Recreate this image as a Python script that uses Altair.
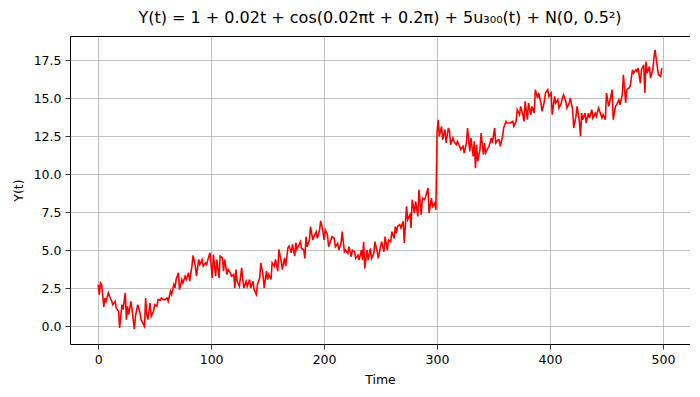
import altair as alt
import pandas as pd

# Values, segment by segment (time, Y(t))
t_a = [0, 1, 2, 3, 5, 6, 7, 9, 10, 12, 13, 15, 16, 18, 19, 21, 22, 24, 25, 26, 27, 29, 30, 32, 33, 35, 37, 38, 41, 42, 43, 44, 46, 47, 49, 50, 52, 53, 55, 56, 58, 59, 61, 62, 64, 65, 67, 68, 69, 71, 72, 74, 75, 77, 78, 80, 81, 83, 84, 86, 87]
y_a = [2.73, 2.07, 2.84, 2.73, 1.26, 1.85, 1.63, 2.18, 1.96, 1.63, 1.41, 1.63, 1.19, 0.97, -0.13, 1.41, 1.08, 2.18, 0.42, 1.30, 0.75, 1.63, 1.08, -0.20, 0.64, 1.41, 0.86, 0.42, -0.02, 1.85, 0.75, 0.42, 1.52, 0.64, 0.97, 1.41, 1.30, 1.74, 1.70, 1.85, 1.74, 1.74, 1.85, 1.63, 2.29, 2.07, 2.73, 2.51, 3.06, 3.50, 2.40, 3.06, 2.84, 3.28, 3.06, 3.50, 2.95, 3.94, 4.65, 3.94, 3.28]

t_b = [89, 90, 92, 93, 95, 96, 98, 99, 101, 102, 104, 105, 107, 108, 110, 111, 112, 114, 115, 117, 118, 120, 121, 122, 123, 125, 127, 128, 129, 131, 132, 134, 135, 137, 138, 140, 141, 143, 144, 146, 147, 149, 150, 151, 153, 154, 156, 157, 159, 160, 162, 163, 165, 166, 168, 169, 171, 172, 174, 175, 176]
y_b = [4.38, 4.05, 4.38, 3.94, 4.16, 4.05, 4.60, 4.82, 3.17, 4.71, 3.28, 4.38, 3.17, 4.60, 4.49, 3.61, 4.38, 3.39, 3.72, 3.50, 3.28, 3.39, 2.51, 3.72, 2.95, 2.62, 3.83, 3.06, 2.51, 2.95, 2.62, 3.06, 2.51, 2.95, 2.40, 2.07, 2.73, 3.17, 4.16, 3.28, 2.51, 3.61, 3.06, 3.39, 3.06, 4.16, 3.94, 4.38, 3.61, 5.04, 4.27, 3.72, 4.49, 3.94, 5.15, 5.26, 4.82, 5.37, 4.60, 5.48, 5.04]

t_c = [177, 179, 180, 182, 183, 184, 185, 187, 188, 190, 191, 193, 194, 196, 197, 199, 200, 201, 203, 204, 206, 207, 209, 210, 212, 213, 215, 216, 218, 219, 221, 222, 224, 225, 227, 228, 230, 231, 233, 234, 235, 236, 238, 239, 241, 242, 244, 245, 247, 248, 250, 251, 253, 254, 256, 257, 259, 260, 262, 263, 264]
y_c = [5.22, 5.55, 5.11, 5.00, 4.45, 5.88, 5.22, 5.66, 6.54, 5.66, 5.88, 6.21, 5.77, 6.32, 6.92, 6.21, 5.66, 6.32, 5.99, 5.22, 5.66, 5.88, 5.77, 5.22, 5.44, 5.00, 5.44, 6.21, 4.89, 5.00, 4.78, 5.22, 4.56, 5.00, 4.89, 4.45, 4.67, 4.34, 5.00, 4.34, 5.55, 3.79, 5.00, 4.34, 5.11, 4.45, 4.78, 5.55, 4.89, 4.45, 5.22, 5.55, 4.89, 5.88, 5.00, 5.66, 5.55, 6.21, 5.77, 6.54, 6.10]

t_d = [265, 267, 268, 270, 271, 273, 274, 276, 277, 278, 280, 281, 283, 284, 286, 287, 289, 290, 292, 293, 295, 296, 298, 299, 300, 301, 302, 304, 305, 307, 308, 310, 311, 312, 314, 315, 317, 318, 320, 321, 323, 324, 326, 327, 329, 330, 332, 333, 334, 335, 336, 338, 339, 341, 342, 343, 345, 346, 348, 349, 351, 352, 354]
y_d = [6.56, 6.67, 6.45, 6.89, 5.46, 7.87, 7.00, 7.32, 6.45, 8.31, 7.43, 8.20, 7.21, 8.97, 7.32, 8.42, 8.31, 8.53, 9.08, 7.43, 8.42, 7.87, 8.09, 7.65, 12.70, 13.57, 12.48, 13.14, 12.26, 12.92, 12.04, 13.03, 12.81, 11.93, 12.37, 12.15, 11.93, 12.15, 11.82, 11.60, 11.82, 11.38, 12.04, 13.03, 11.49, 12.37, 11.16, 12.15, 10.39, 11.93, 10.83, 11.60, 12.70, 11.27, 12.04, 11.38, 11.71, 11.82, 12.37, 12.04, 13.03, 12.04, 12.26]

t_e = [355, 356, 358, 359, 361, 362, 364, 365, 367, 368, 370, 371, 373, 374, 376, 377, 378, 380, 381, 383, 384, 386, 387, 389, 390, 392, 393, 395, 396, 398, 399, 401, 402, 404, 405, 407, 408, 410, 411, 412, 414, 415, 417, 418, 420, 421, 423, 424, 426, 427, 428, 429, 431, 432, 434, 435, 437, 438, 440, 441]
y_e = [12.26, 11.82, 12.48, 13.03, 13.46, 13.36, 13.36, 13.36, 13.46, 13.14, 13.46, 14.23, 13.90, 14.45, 13.90, 13.46, 14.78, 13.57, 14.67, 13.90, 14.45, 14.01, 15.55, 15.00, 15.33, 14.67, 14.12, 14.78, 15.33, 15.55, 15.11, 15.33, 13.90, 15.11, 14.67, 14.89, 14.34, 14.67, 15.00, 15.22, 14.78, 14.34, 14.67, 15.00, 14.23, 13.03, 13.79, 14.45, 13.46, 12.48, 14.01, 13.57, 14.01, 13.36, 14.01, 13.68, 14.23, 13.68, 14.01, 13.79]

t_f = [443, 444, 446, 447, 449, 450, 452, 453, 455, 456, 458, 459, 461, 462, 464, 465, 467, 468, 470, 471, 473, 474, 476, 477, 478, 480, 481, 483, 484, 485, 486, 488, 489, 491, 492, 493, 495, 496, 498, 499]
y_f = [14.34, 14.13, 13.69, 13.91, 13.58, 15.33, 14.45, 14.78, 15.55, 13.58, 14.45, 14.56, 14.89, 14.56, 15.22, 16.53, 14.67, 15.55, 15.66, 15.76, 16.86, 16.64, 16.86, 16.75, 16.97, 15.98, 16.86, 17.18, 15.33, 17.40, 16.64, 17.07, 16.31, 16.86, 17.62, 18.17, 17.07, 16.53, 16.42, 16.97]

x_ticks = [0, 100, 200, 300, 400, 500]
y_ticks = [0.0, 2.5, 5.0, 7.5, 10.0, 12.5, 15.0, 17.5]

title_text = "Y(t) = 1 + 0.02t + cos(0.02πt + 0.2π) + 5u₃₀₀(t) + N(0, 0.5²)"

df = pd.DataFrame({
    "Time": t_a + t_b + t_c + t_d + t_e + t_f,
    "Y": y_a + y_b + y_c + y_d + y_e + y_f,
})

FONT = "DejaVu Sans"

line = alt.Chart(df).mark_line(color="#ff0000", strokeWidth=1.6, clip=True).encode(
    x=alt.X("Time:Q",
            scale=alt.Scale(domain=[-24.95, 523.95], nice=False, zero=False),
            axis=alt.Axis(values=x_ticks, title="Time", format="d")),
    y=alt.Y("Y:Q",
            scale=alt.Scale(domain=[-1.18, 19.08], nice=False, zero=False),
            axis=alt.Axis(values=y_ticks, title="Y(t)", format=".1f")),
)

chart = line.properties(
    width=620,
    height=308,
    background="white",
    autosize=alt.AutoSizeParams(type="none"),
    padding={"left": 62, "top": 28, "right": 0, "bottom": 48},
    title=alt.TitleParams(title_text, font=FONT, fontSize=16, fontWeight="normal",
                          color="black", anchor="middle", frame="group", offset=10),
).configure_view(
    stroke="black", strokeWidth=1
).configure_axis(
    domain=False,
    grid=True,
    gridColor="#b0b0b0",
    gridWidth=0.8,
    tickColor="black",
    tickSize=5,
    tickWidth=0.8,
    labelFont=FONT,
    labelFontSize=12.5,
    labelColor="black",
    labelPadding=4,
    titleFont=FONT,
    titleFontSize=12.5,
    titleFontWeight="normal",
    titleColor="black",
).configure_axisX(
    titlePadding=8,
).configure_axisY(
    titlePadding=8,
)

chart.save("out.html", embed_options={"renderer": "svg", "actions": False})
